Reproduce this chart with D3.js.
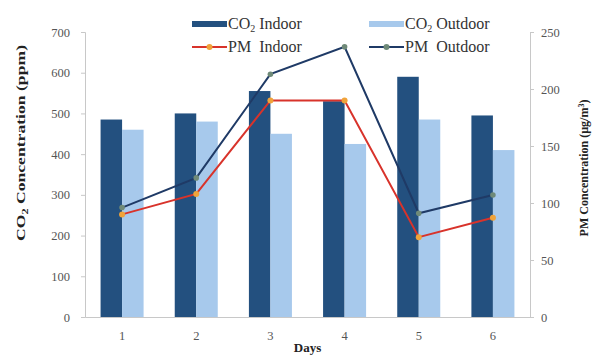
<!DOCTYPE html>
<html>
<head>
<meta charset="utf-8">
<script src="https://cdn.jsdelivr.net/npm/d3@7"></script>
<style>
  html, body { margin: 0; padding: 0; background: #fff; }
  svg { display: block; font-family: "Liberation Serif", "Times New Roman", serif; }
</style>
</head>
<body>
<svg id="chart" width="596" height="357"></svg>
<script>
// Daily CO2 (ppm, left axis) and PM (µg/m³, right axis) readings
const days = ["1", "2", "3", "4", "5", "6"];
const co2Indoor = [485, 500, 555, 530, 590, 495];
const co2Outdoor = [460, 480, 450, 425, 485, 410];
const pmIndoor = [90, 108, 190, 190, 70, 87];
const pmOutdoor = [96, 122, 213, 237, 91, 107];
const co2Ticks = [0, 100, 200, 300, 400, 500, 600, 700];
const pmTicks = [0, 50, 100, 150, 200, 250];

const W = 596, H = 357;
const margin = { top: 32, right: 66, bottom: 40, left: 85 };
const iw = W - margin.left - margin.right;
const ih = H - margin.top - margin.bottom;

const colors = {
  co2In: "#23507f",
  co2Out: "#a7c9ec",
  pmIn: "#d8332b",
  pmInMarker: "#f0a33a",
  pmOut: "#1f3a66",
  pmOutMarker: "#6f8a78",
  axis: "#c8c8c8",
  tickText: "#555"
};

const svg = d3.select("#chart");
const g = svg.append("g").attr("transform", `translate(${margin.left},${margin.top})`);

const x = d3.scaleBand().domain(days).range([0, iw]).paddingInner(0).paddingOuter(0);
const xSub = d3.scaleBand().domain(["in", "out"]).range([x.bandwidth() * 0.21, x.bandwidth() * 0.79]).padding(0);
const yL = d3.scaleLinear().domain([0, 700]).range([ih, 0]);
const yR = d3.scaleLinear().domain([0, 250]).range([ih, 0]);

// Bars
const groups = g.selectAll("g.day").data(days).join("g")
  .attr("class", "day")
  .attr("transform", d => `translate(${x(d)},0)`);

groups.append("rect")
  .attr("x", xSub("in"))
  .attr("width", xSub.bandwidth())
  .attr("y", (d, i) => yL(co2Indoor[i]))
  .attr("height", (d, i) => ih - yL(co2Indoor[i]))
  .attr("fill", colors.co2In);

groups.append("rect")
  .attr("x", xSub("out"))
  .attr("width", xSub.bandwidth())
  .attr("y", (d, i) => yL(co2Outdoor[i]))
  .attr("height", (d, i) => ih - yL(co2Outdoor[i]))
  .attr("fill", colors.co2Out);

// Axes
const axisLeft = d3.axisLeft(yL).tickValues(co2Ticks).tickSize(4).tickPadding(11);
const axisRight = d3.axisRight(yR).tickValues(pmTicks).tickSize(4).tickPadding(7);
const axisBottom = d3.axisBottom(x).tickSize(0).tickPadding(14);

function styleAxis(sel) {
  sel.select(".domain").attr("stroke", colors.axis);
  sel.selectAll(".tick line").attr("stroke", colors.axis);
  sel.selectAll(".tick text")
    .attr("fill", colors.tickText)
    .style("font-family", "'Liberation Serif', serif")
    .style("font-size", "12.5px");
}

g.append("g").call(axisLeft).call(styleAxis);
g.append("g").attr("transform", `translate(${iw},0)`).call(axisRight).call(styleAxis);
g.append("g").attr("transform", `translate(0,${ih})`).call(axisBottom).call(styleAxis);

// PM lines
const line = yScale => d3.line()
  .x((d, i) => x(days[i]) + x.bandwidth() / 2)
  .y(d => yScale(d));

g.append("path").datum(pmIndoor)
  .attr("d", line(yR))
  .attr("fill", "none")
  .attr("stroke", colors.pmIn)
  .attr("stroke-width", 2);

g.append("path").datum(pmOutdoor)
  .attr("d", line(yR))
  .attr("fill", "none")
  .attr("stroke", colors.pmOut)
  .attr("stroke-width", 2);

g.selectAll("circle.pmIn").data(pmIndoor).join("circle")
  .attr("class", "pmIn")
  .attr("cx", (d, i) => x(days[i]) + x.bandwidth() / 2)
  .attr("cy", d => yR(d))
  .attr("r", 3)
  .attr("fill", colors.pmInMarker);

g.selectAll("circle.pmOut").data(pmOutdoor).join("circle")
  .attr("class", "pmOut")
  .attr("cx", (d, i) => x(days[i]) + x.bandwidth() / 2)
  .attr("cy", d => yR(d))
  .attr("r", 2.8)
  .attr("fill", colors.pmOutMarker);

// Axis titles
svg.append("text")
  .attr("transform", "translate(25,143) rotate(-90)")
  .attr("text-anchor", "middle")
  .attr("font-weight", "bold")
  .attr("font-size", "13px")
  .attr("fill", "#222")
  .attr("textLength", 196)
  .attr("lengthAdjust", "spacingAndGlyphs")
  .html('CO<tspan font-size="9px" dy="3">2</tspan><tspan dy="-3"> Concentration (ppm)</tspan>');

svg.append("text")
  .attr("transform", "translate(588,168) rotate(-90)")
  .attr("text-anchor", "middle")
  .attr("font-weight", "bold")
  .attr("font-size", "12px")
  .attr("fill", "#222")
  .html('PM Concentration (µg/m<tspan font-size="8px" dy="-4">3</tspan><tspan dy="4">)</tspan>');

svg.append("text")
  .attr("x", margin.left + iw / 2)
  .attr("y", 352)
  .attr("text-anchor", "middle")
  .attr("font-weight", "bold")
  .attr("font-size", "13px")
  .attr("fill", "#222")
  .text("Days");

// Legend
const legend = svg.append("g").attr("font-size", "16px").attr("fill", "#333");
const legendItems = [
  { kind: "bar", color: colors.co2In, x: 192, y: 24, label: 'CO<tspan font-size="10px" dy="3">2</tspan><tspan dy="-3"> Indoor</tspan>' },
  { kind: "bar", color: colors.co2Out, x: 369, y: 24, label: 'CO<tspan font-size="10px" dy="3">2</tspan><tspan dy="-3"> Outdoor</tspan>' },
  { kind: "line", color: colors.pmIn, marker: colors.pmInMarker, x: 192, y: 47, label: "PM&#160; Indoor" },
  { kind: "line", color: colors.pmOut, marker: colors.pmOutMarker, x: 369, y: 47, label: "PM&#160; Outdoor" }
];

legendItems.forEach(it => {
  const item = legend.append("g");
  if (it.kind === "bar") {
    item.append("rect").attr("x", it.x).attr("y", it.y - 3).attr("width", 35).attr("height", 6).attr("fill", it.color);
  } else {
    item.append("line").attr("x1", it.x).attr("x2", it.x + 35).attr("y1", it.y).attr("y2", it.y)
      .attr("stroke", it.color).attr("stroke-width", 2);
    item.append("circle").attr("cx", it.x + 17.5).attr("cy", it.y).attr("r", 3).attr("fill", it.marker);
  }
  item.append("text").attr("x", it.x + 36).attr("y", it.y + 5).html(it.label);
});
</script>
</body>
</html>
